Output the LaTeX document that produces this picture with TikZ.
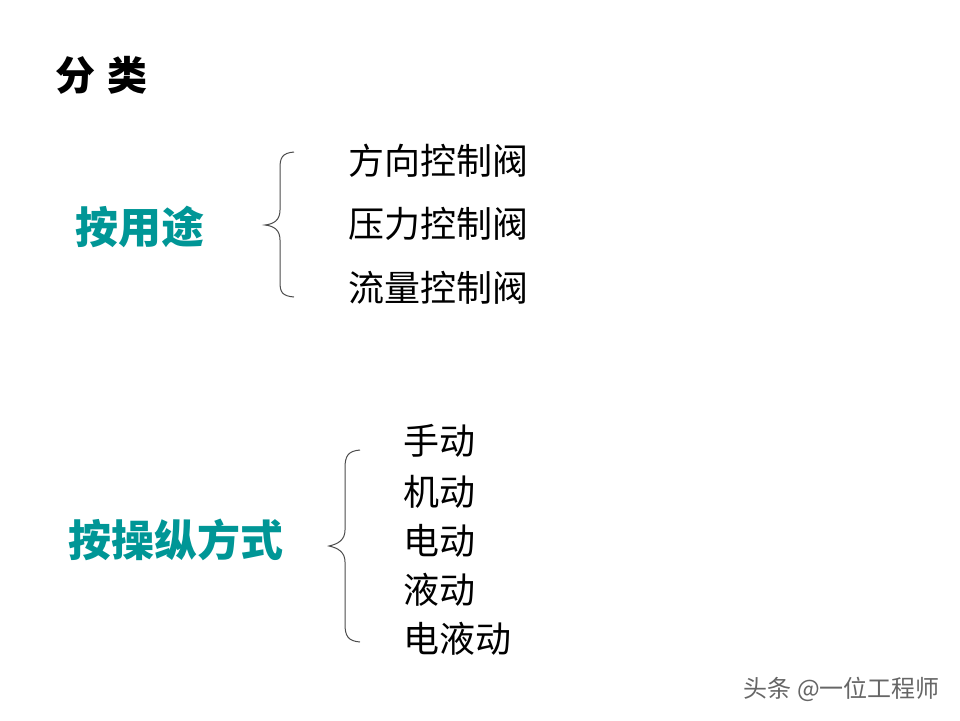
\documentclass[tikz,border=0pt]{standalone}
\usepackage{fontspec}
\newfontfamily\cjk{Noto Sans CJK SC}
\definecolor{teal1}{RGB}{0,150,150}
\begin{document}
\begin{tikzpicture}[x=1pt,y=-1pt,
  item/.style={anchor=west,inner sep=0pt,font=\cjk\fontsize{36}{36}\selectfont},
  head/.style={anchor=west,inner sep=0pt,text=teal1,font=\cjk\bfseries\fontsize{43}{43}\selectfont},
  br/.style={line width=1pt,black!70}]
\fill[white] (0,0) rectangle (960,720);
\useasboundingbox (0,0) rectangle (960,720);
\node[anchor=west,inner sep=0pt,font=\cjk\bfseries\fontsize{40}{40}\selectfont] (t) at (55,75) {分\hspace{12pt}类};
\node[head] (h1) at (75,227) {按用途};
\node[item] (a1) at (348,161) {方向控制阀};
\node[item] (a2) at (348,224) {压力控制阀};
\node[item] (a3) at (348,288) {流量控制阀};
\draw[br] (294,152) .. controls (282,153) and (280,158) .. (280,168) -- (280,210)
  .. controls (280,220) and (274,224) .. (265,225)
  .. controls (274,226) and (280,230) .. (280,240) -- (280,282)
  .. controls (280,292) and (282,296) .. (294,297);
\node[head] (h2) at (68,540) {按操纵方式};
\node[item] (b1) at (403,441) {手动};
\node[item] (b2) at (403,492) {机动};
\node[item] (b3) at (403,541) {电动};
\node[item] (b4) at (403,590) {液动};
\node[item] (b5) at (403,639) {电液动};
\draw[br] (360,450) .. controls (348,451) and (345,456) .. (345,468) -- (345,530)
  .. controls (345,540) and (338,544) .. (329,546)
  .. controls (338,548) and (345,552) .. (345,562) -- (345,624)
  .. controls (345,636) and (348,641) .. (360,642);
\node[anchor=east,inner sep=0pt,text=black!60,font=\cjk\fontsize{24}{24}\selectfont] (w) at (940,689) {头条 @一位工程师};
\end{tikzpicture}
\end{document}
